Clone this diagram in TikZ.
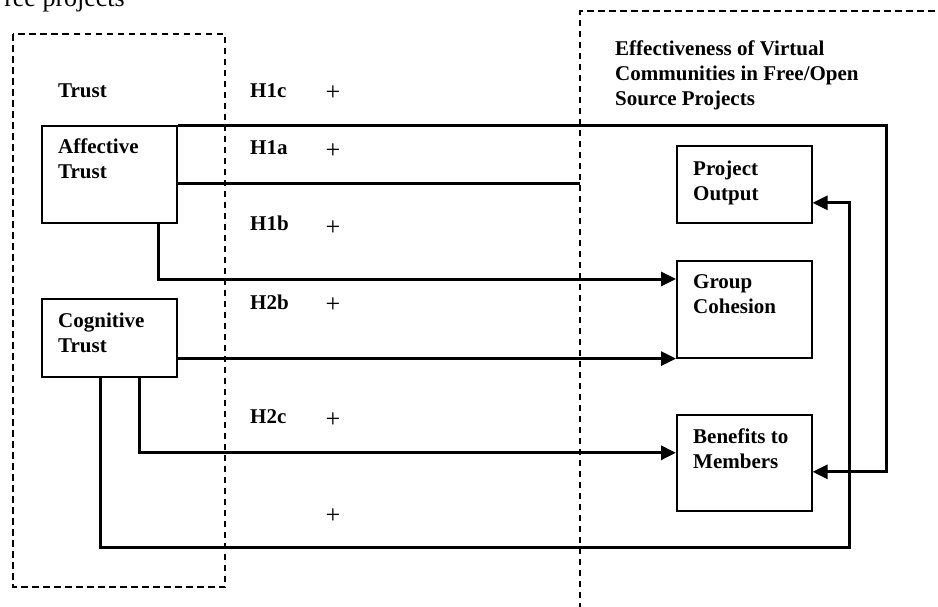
\documentclass[tikz,border=0pt]{standalone}
\usepackage{fontspec}
\setmainfont{Liberation Serif}
\usetikzlibrary{arrows.meta}

\begin{document}
\begin{tikzpicture}[x=1pt,y=-1pt,
    every node/.style={font=\fontsize{21}{25}\selectfont\bfseries, inner sep=0pt},
    boxnode/.style={draw, line width=1.6pt, minimum width=135pt, anchor=north west},
    lbl/.style={align=left, anchor=north west},
    plus/.style={font=\fontsize{26}{30}\selectfont},
    conn/.style={line width=3pt},
    arrowtip/.style={-{Triangle[length=15pt,width=14pt]}},
    region/.style={dashed, line width=1.5pt, dash pattern=on 6.5pt off 4.5pt}]
                \useasboundingbox (0,0) rectangle (938,606);
                \node[font=\fontsize{26}{30}\selectfont, anchor=base east] (caption) at (125,6) {ree projects};
                % construct regions
                \draw[region] (13,34) rectangle (225,587);
                \draw[region] (580,620) -- (580,11) -- (950,11);
                \node[anchor=base west] (trust) at (58,97) {Trust};
                \node[lbl] (effect) at (615,40.5) {Effectiveness of Virtual\\Communities in Free/Open\\Source Projects};
                % boxes
                \node[boxnode, minimum height=97pt] (aff) at (41,125) {};
                \node[boxnode, minimum height=78pt] (cog) at (41,298) {};
                \node[boxnode, minimum height=77pt] (po) at (676,145) {};
                \node[boxnode, minimum height=97pt] (gc) at (676,260) {};
                \node[boxnode, minimum height=96pt] (ben) at (676,414) {};
                \node[lbl] (afftxt) at (58,138.5) {Affective\\Trust};
                \node[lbl] (cogtxt) at (58,312.5) {Cognitive\\Trust};
                \node[lbl] (potxt) at (693,160.5) {Project\\Output};
                \node[lbl] (gctxt) at (693,274.5) {Group\\Cohesion};
                \node[lbl] (bentxt) at (693,428.5) {Benefits to\\Members};
                % hypotheses
                \node[anchor=base west] (h1c) at (250,97) {H1c};
                \node[anchor=base west] (h1a) at (250,154.5) {H1a};
                \node[anchor=base west] (h1b) at (250,230.5) {H1b};
                \node[anchor=base west] (h2b) at (250,309) {H2b};
                \node[anchor=base west] (h2c) at (250,423) {H2c};
                \node[plus] (p1) at (333,93) {+};
                \node[plus] (p2) at (333,151) {+};
                \node[plus] (p3) at (333,228) {+};
                \node[plus] (p4) at (333,305) {+};
                \node[plus] (p5) at (333,420) {+};
                \node[plus] (p6) at (333,516) {+};
                % connectors
                \coordinate (topright) at (886,125);
                \coordinate (h1aend) at (580,183);
                \coordinate (botright) at (849,547);
                \draw[conn, arrowtip] (aff.north east) -- (topright) |- ([yshift=-9pt]ben.east);
                \draw[conn] (h1aend -| aff.east) -- (h1aend);
                \draw[conn, arrowtip] ([xshift=-19pt]aff.south east) |- ([yshift=-19pt]gc.north west);
                \draw[conn, arrowtip] (gc.south west -| cog.east) -- (gc.south west);
                \draw[conn, arrowtip] ([xshift=-38pt]cog.south east) |- ([yshift=10pt]ben.west);
                \draw[conn, arrowtip] ([xshift=59pt]cog.south west) |- (botright) |- ([yshift=-18.5pt]po.east);
            \end{tikzpicture}
\end{document}
